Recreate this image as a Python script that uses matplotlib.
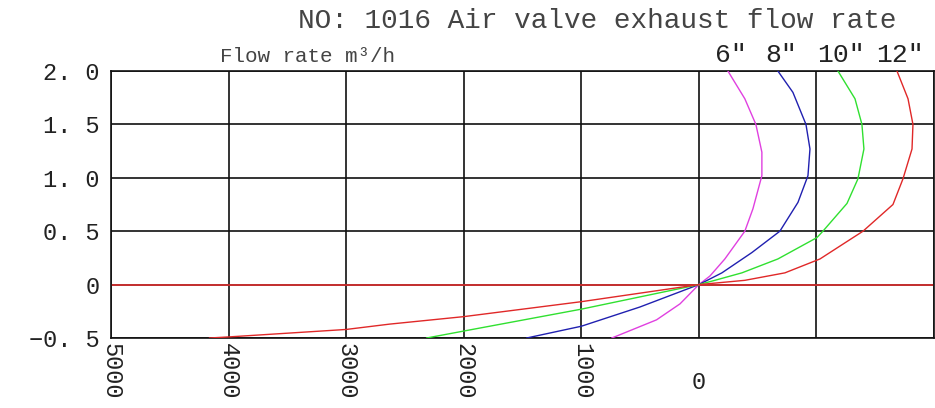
import matplotlib
matplotlib.use("Agg")
import matplotlib.pyplot as plt

# pressure (y) and flow rate (x), bottom to top
p_6 = [-0.5, -0.33, -0.18, 0, 0.08, 0.24, 0.5, 0.71, 1.02, 1.24, 1.5, 1.74, 2.0]
q_6 = [740, 360, 160, 0, -94, -221, -391, -460, -536, -536, -485, -391, -247]

p_8 = [-0.5, -0.39, -0.21, 0, 0.11, 0.30, 0.5, 0.77, 1.02, 1.27, 1.5, 1.80, 2.0]
q_8 = [1464, 1000, 502, 0, -196, -451, -689, -843, -928, -945, -911, -800, -672]

p_10 = [-0.5, -0.435, -0.23, 0, 0.04, 0.11, 0.24, 0.44, 0.5, 0.76, 0.99, 1.27, 1.5, 1.74, 2.0]
q_10 = [2315, 2000, 1000, 0, -136, -366, -672, -1004, -1055, -1260, -1353, -1404, -1387, -1328, -1183]

p_12 = [-0.5, -0.49, -0.42, -0.37, -0.30, -0.16, 0, 0.04, 0.11, 0.24, 0.5, 0.75, 0.99, 1.27, 1.5, 1.74, 2.0]
q_12 = [4162, 4000, 3000, 2630, 2000, 1000, 0, -391, -732, -1030, -1396, -1651, -1736, -1813, -1821, -1779, -1685]

sizes = ['6"', '8"', '10"', '12"']
colors = ['#e040e0', '#2020b0', '#30e030', '#e02828']

x_grid = [5000, 4000, 3000, 2000, 1000, 0, -1000, -2000]
x_labels = ['5000', '4000', '3000', '2000', '1000']
y_ticks = [-0.5, 0, 0.5, 1.0, 1.5, 2.0]
y_labels = ['\u22120. 5', '0', '0. 5', '1. 0', '1. 5', '2. 0']

font = 'Liberation Mono'

fig = plt.figure(figsize=(9.35, 4.08), dpi=100)
ax = fig.add_axes([111 / 935, 1 - 338 / 408, 823 / 935, 267 / 408])

ax.set_xlim(5000, -2000)
ax.set_ylim(-0.5, 2.0)

for x in x_grid:
    ax.axvline(x, color='#111111', lw=1.2, zorder=1)
for y in y_ticks:
    ax.axhline(y, color='#111111', lw=1.2, zorder=1)
ax.axhline(0, color='#e03030', lw=1.2, zorder=2)

series = [(q_6, p_6), (q_8, p_8), (q_10, p_10), (q_12, p_12)]
for (q, p), c, lab in zip(series, colors, sizes):
    ax.plot(q, p, color=c, lw=1.0, zorder=3)
    ax.annotate(lab, xy=(q[-1], 2.0), xytext=(2, 3), textcoords='offset points',
                ha='center', va='bottom', fontsize=19, family=font, color='#222222',
                annotation_clip=False)

for s in ax.spines.values():
    s.set_linewidth(1.2)
    s.set_color('#111111')

ax.set_yticks(y_ticks)
ax.set_yticklabels(y_labels, family=font, fontsize=17, color='#222222')
ax.set_xticks([])
ax.tick_params(axis='y', length=0, pad=8)

for x, lab in zip([5000, 4000, 3000, 2000, 1000], x_labels):
    ax.text(x, -0.55, lab, rotation=-90, ha='center', va='top', family=font,
            fontsize=17, color='#222222', clip_on=False)
ax.text(0, -0.92, '0', ha='center', va='center', family=font, fontsize=17,
        color='#222222', clip_on=False)

fig.text(597 / 935, 1 - 21 / 408, 'NO: 1016 Air valve exhaust flow rate', ha='center',
         va='center', family=font, fontsize=20, color='#444444')
fig.text(308 / 935, 1 - 56 / 408, 'Flow rate m³/h', ha='center', va='center',
         family=font, fontsize=15, color='#444444')

fig.savefig('out.png', dpi=100)
